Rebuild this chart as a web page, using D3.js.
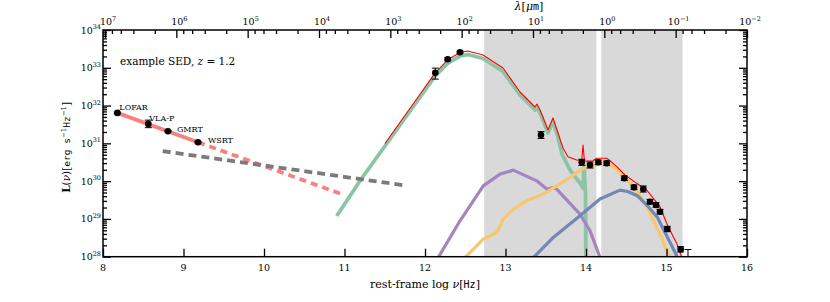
<!DOCTYPE html>
<html>
<head>
<meta charset="utf-8">
<script src="https://cdn.jsdelivr.net/npm/d3@7/dist/d3.min.js"></script>
<style>
  body { margin: 0; background: #fff; }
  text { font-family: "DejaVu Serif", serif; fill: #000; }
</style>
</head>
<body>
<svg id="chart"></svg>
<script>
// radio photometry (log nu [Hz], log L)
const radioNames = ['LOFAR', 'VLA-P', 'GMRT', 'WSRT'];
const radioLogNu = [8.178, 8.563, 8.807, 9.18];
const radioLogL = [31.806, 31.515, 31.322, 31.03];
const radioErr = [0.02, 0.1, 0.02, 0.02];

// IR / optical photometry
const photLogNu = [12.128, 12.282, 12.435, 13.441, 13.947, 14.05, 14.153, 14.257, 14.476, 14.596,
  14.712, 14.795, 14.87, 14.919, 15.01, 15.176, 15.267];
const photLogL = [32.87, 33.224, 33.41, 31.221, 30.498, 30.427, 30.498, 30.472, 30.075, 29.836,
  29.791, 29.455, 29.368, 29.191, 28.733, 28.195, 27.9];
const photErrLo = [0.17, 0.04, 0.03, 0.09, 0.08, 0.08, 0.06, 0.06, 0.06, 0.06,
  0.08, 0.06, 0.06, 0.06, 0.07, 0.07, 0.3];
const photErrHi = [0.12, 0.04, 0.03, 0.09, 0.08, 0.08, 0.06, 0.06, 0.06, 0.06,
  0.08, 0.06, 0.06, 0.06, 0.07, 0.07, 0.29];

// synchrotron power law: fit over the data, then extrapolated
const synchLogNu = [8.178, 9.18, 10.965];
const synchLogL = [31.806, 31.03, 29.657];
// radio-FIR correlation expectation
const corrLogNu = [8.742, 11.76];
const corrLogL = [30.794, 29.884];

// dust emission
const dustLogNu = [10.903, 11.214, 11.503, 11.938, 12.124, 12.286, 12.435, 12.534, 12.72, 12.969,
  13.18, 13.366, 13.391, 13.429, 13.528, 13.59, 13.652, 13.702, 13.801, 13.925, 13.963, 13.975, 13.994, 14.0];
const dustLogL = [29.077, 30.075, 30.93, 32.22, 32.78, 33.127, 33.312, 33.351, 33.246, 32.902,
  32.28, 31.882, 31.949, 31.803, 31.274, 31.565, 31.168, 30.718, 30.294, 29.95, 29.818, 30.427, 29.633, 27.5];

// old stellar population
const purpleLogNu = [12.12, 12.165, 12.435, 12.724, 12.932, 13.097, 13.388, 13.512, 13.594, 13.636, 13.925, 14.05, 14.174, 14.2];
const purpleLogL = [27.85, 27.98, 28.95, 29.876, 30.186, 30.291, 30.008, 29.789, 29.831, 29.789, 29.128, 28.687, 27.98, 27.85];

// young stellar population
const orangeLogNu = [12.46, 12.497, 12.724, 12.891, 12.973, 13.097, 13.263, 13.47, 13.636, 13.801, 13.947, 14.071,
  14.257, 14.381, 14.506, 14.63, 14.754, 14.878, 14.94, 15.002, 15.043, 15.06];
const orangeLogL = [27.85, 27.98, 28.467, 28.642, 28.996, 29.26, 29.48, 29.657, 29.876, 30.096, 30.318, 30.405,
  30.492, 30.318, 30.053, 29.744, 29.348, 28.774, 28.51, 28.158, 27.98, 27.9];

// unattenuated stars
const blueLogNu = [13.3, 13.348, 13.594, 13.925, 14.174, 14.422, 14.516, 14.64, 14.764, 14.888, 14.971, 15.054, 15.116, 15.14];
const blueLogL = [27.85, 27.98, 28.51, 29.083, 29.525, 29.763, 29.726, 29.612, 29.348, 29.038, 28.687, 28.335, 28.07, 27.95];

// total model
const totalLogNu = [11.503, 11.938, 12.124, 12.286, 12.435, 12.534, 12.72, 12.969, 13.18, 13.366, 13.391, 13.429,
  13.528, 13.59, 13.652, 13.714, 13.776, 13.884, 13.947, 13.963, 13.981, 14.087, 14.133, 14.257, 14.298, 14.381,
  14.484, 14.63, 14.754, 14.836, 14.919, 15.002, 15.084, 15.126, 15.189, 15.21];
const totalLogL = [30.996, 32.3, 32.86, 33.219, 33.404, 33.444, 33.338, 32.994, 32.359, 31.962, 32.041, 31.882,
  31.353, 31.671, 31.274, 30.877, 30.646, 30.559, 30.54, 30.956, 30.533, 30.54, 30.604, 30.604, 30.54, 30.382,
  30.162, 29.942, 29.765, 29.545, 29.323, 28.884, 28.529, 28.354, 27.99, 27.85];

// shaded bands (log nu)
const bands = [[12.735, 14.13], [14.19, 15.2]];

// axis ticks
const xTicks = d3.range(8, 17);
const yTicks = d3.range(28, 35);
const topTicks = d3.range(7, -3, -1);

const W = 830, H = 302;
const L = 103, R = 747, T = 30, B = 256.7;

const svg = d3.select('#chart').attr('width', W).attr('height', H);

const x = d3.scaleLinear().domain([8, 16]).range([L, R]);
const y = d3.scaleLinear().domain([28, 34]).range([B, T]);
const xTop = d3.scaleLinear().domain([7.028, -2]).range([L, R]);

svg.append('clipPath').attr('id', 'plot')
  .append('rect').attr('x', L).attr('y', T).attr('width', R - L).attr('height', B - T);

const g = svg.append('g').attr('clip-path', 'url(#plot)');

g.selectAll('rect.band').data(bands).enter().append('rect')
  .attr('class', 'band')
  .attr('x', d => x(d[0])).attr('y', T)
  .attr('width', d => x(d[1]) - x(d[0])).attr('height', B - T)
  .attr('fill', '#d9d9d9');

const line = d3.line().x(d => x(d[0])).y(d => y(d[1]));
const zip = (a, b) => a.map((v, i) => [v, b[i]]);

function curve(nu, lum, color, width, dash) {
  const p = g.append('path').datum(zip(nu, lum))
    .attr('d', line).attr('fill', 'none')
    .attr('stroke', color).attr('stroke-width', width)
    .attr('stroke-linejoin', 'round');
  if (dash) p.attr('stroke-dasharray', dash);
  return p;
}

curve(dustLogNu, dustLogL, '#8cc5a5', 3.8);
curve(purpleLogNu, purpleLogL, '#a584c0', 3.2);
curve(orangeLogNu, orangeLogL, '#f6c76f', 3.2);
curve(blueLogNu, blueLogL, '#7388b6', 3.2);

curve(synchLogNu.slice(0, 2), synchLogL.slice(0, 2), '#f98080', 3.8);
curve(synchLogNu.slice(1), synchLogL.slice(1), '#f98080', 3.8, '7,5');
curve(corrLogNu, corrLogL, '#7b7b7b', 3.8, '8,5');

curve(totalLogNu, totalLogL, '#ff0000', 1.1);

// photometry with error bars
function points(nu, lum, lo, hi) {
  const pts = nu.map((v, i) => ({ nu: v, l: lum[i], lo: lo[i], hi: hi[i] }));
  const eb = g.append('g').attr('stroke', '#000').attr('stroke-width', 1);
  eb.selectAll('line.v').data(pts).enter().append('line')
    .attr('x1', d => x(d.nu)).attr('x2', d => x(d.nu))
    .attr('y1', d => y(d.l - d.lo)).attr('y2', d => y(d.l + d.hi));
  ['lo', 'hi'].forEach(k => {
    eb.selectAll('line.' + k).data(pts).enter().append('line')
      .attr('x1', d => x(d.nu) - 3.5).attr('x2', d => x(d.nu) + 3.5)
      .attr('y1', d => y(k === 'lo' ? d.l - d.lo : d.l + d.hi))
      .attr('y2', d => y(k === 'lo' ? d.l - d.lo : d.l + d.hi));
  });
  g.selectAll(null).data(pts).enter().append('circle')
    .attr('cx', d => x(d.nu)).attr('cy', d => y(d.l)).attr('r', 3.3).attr('fill', '#000');
}
points(radioLogNu, radioLogL, radioErr, radioErr);
points(photLogNu, photLogL, photErrLo, photErrHi);

// radio labels
const labelOffsets = [[2, -2.5], [1, -3], [9, 0.7], [10, 1.2]];
svg.selectAll('text.radio').data(radioNames).enter().append('text')
  .attr('class', 'radio')
  .attr('x', (d, i) => x(radioLogNu[i]) + labelOffsets[i][0])
  .attr('y', (d, i) => y(radioLogL[i]) + labelOffsets[i][1])
  .attr('font-size', 8)
  .text(d => d);

// axes (ticks pointing inward)
const yMinor = [];
yTicks.slice(0, -1).forEach(n => d3.range(2, 10).forEach(k => yMinor.push(n + Math.log10(k))));
const topMinor = [];
d3.range(7, -2, -1).forEach(n => [2, 4, 6, 8].forEach(k => topMinor.push(n - 1 + Math.log10(k))));

function axis(gen, transform, vals, size) {
  const a = svg.append('g').attr('transform', transform)
    .call(gen.tickValues(vals).tickSize(size).tickFormat(''));
  a.select('.domain').remove();
  a.selectAll('line').attr('stroke', '#000').attr('stroke-width', 1.3);
  return a;
}
axis(d3.axisLeft(y), `translate(${L},0)`, yTicks, -8);
axis(d3.axisLeft(y), `translate(${L},0)`, yMinor, -4);
axis(d3.axisRight(y), `translate(${R},0)`, yTicks, -8);
axis(d3.axisRight(y), `translate(${R},0)`, yMinor, -4);
axis(d3.axisBottom(x), `translate(0,${B})`, xTicks, -8);
axis(d3.axisTop(xTop), `translate(0,${T})`, topTicks, -8);
axis(d3.axisTop(xTop), `translate(0,${T})`, topMinor.filter(v => v <= 7.028 && v >= -2), -4);

svg.append('rect').attr('x', L).attr('y', T).attr('width', R - L).attr('height', B - T)
  .attr('fill', 'none').attr('stroke', '#000').attr('stroke-width', 1.5);

// tick labels
svg.selectAll('text.xt').data(xTicks).enter().append('text')
  .attr('class', 'xt').attr('x', d => x(d)).attr('y', B + 14)
  .attr('text-anchor', 'middle').attr('font-size', 9.5).text(d => d);

function pow10(sel, exp) {
  sel.append('tspan').text('10');
  sel.append('tspan').attr('dy', -4.5).attr('font-size', 6.5).text(exp);
}
svg.selectAll('text.yt').data(yTicks).enter().append('text')
  .attr('class', 'yt').attr('x', L - 2).attr('y', d => y(d) + 3.5)
  .attr('text-anchor', 'end').attr('font-size', 9.5)
  .each(function (d) { pow10(d3.select(this), d); });

svg.selectAll('text.tt').data(topTicks).enter().append('text')
  .attr('class', 'tt').attr('x', d => xTop(d) + 3).attr('y', T - 5)
  .attr('text-anchor', 'middle').attr('font-size', 9.5)
  .each(function (d) { pow10(d3.select(this), d < 0 ? '\u2212' + (-d) : d); });

// axis titles
const mono = '"DejaVu Sans Mono", monospace';
const xl = svg.append('text').attr('x', (L + R) / 2).attr('y', 288)
  .attr('text-anchor', 'middle').attr('font-size', 11);
xl.append('tspan').text('rest-frame log ');
xl.append('tspan').attr('font-style', 'italic').text('\u03bd');
xl.append('tspan').text('[');
xl.append('tspan').attr('font-family', mono).attr('font-size', 10).text('Hz');
xl.append('tspan').text(']');

const tl = svg.append('text').attr('x', 529).attr('y', 10)
  .attr('text-anchor', 'middle').attr('font-size', 11);
tl.append('tspan').attr('font-style', 'italic').text('\u03bb');
tl.append('tspan').text('[');
tl.append('tspan').attr('font-style', 'italic').text('\u03bc');
tl.append('tspan').attr('font-family', mono).attr('font-size', 10).text('m');
tl.append('tspan').text(']');

const yl = svg.append('text').attr('transform', `translate(70,${(T + B) / 2 + 4}) rotate(-90)`)
  .attr('text-anchor', 'middle').attr('font-size', 10.5);
yl.append('tspan').attr('font-weight', 'bold').text('L');
yl.append('tspan').text('(');
yl.append('tspan').attr('font-style', 'italic').text('\u03bd');
yl.append('tspan').text(')[');
yl.append('tspan').attr('font-family', mono).attr('font-size', 9.5).text('erg s');
yl.append('tspan').attr('dy', -4).attr('font-size', 7).text('\u22121');
yl.append('tspan').attr('dy', 4).attr('font-family', mono).attr('font-size', 9.5).text('Hz');
yl.append('tspan').attr('dy', -4).attr('font-size', 7).text('\u22121');
yl.append('tspan').attr('dy', 4).text(']');

const ann = svg.append('text').attr('x', 120).attr('y', 65).attr('font-size', 10.5);
ann.append('tspan').text('example SED, ');
ann.append('tspan').attr('font-style', 'italic').text('z');
ann.append('tspan').text(' = 1.2');
</script>
</body>
</html>
